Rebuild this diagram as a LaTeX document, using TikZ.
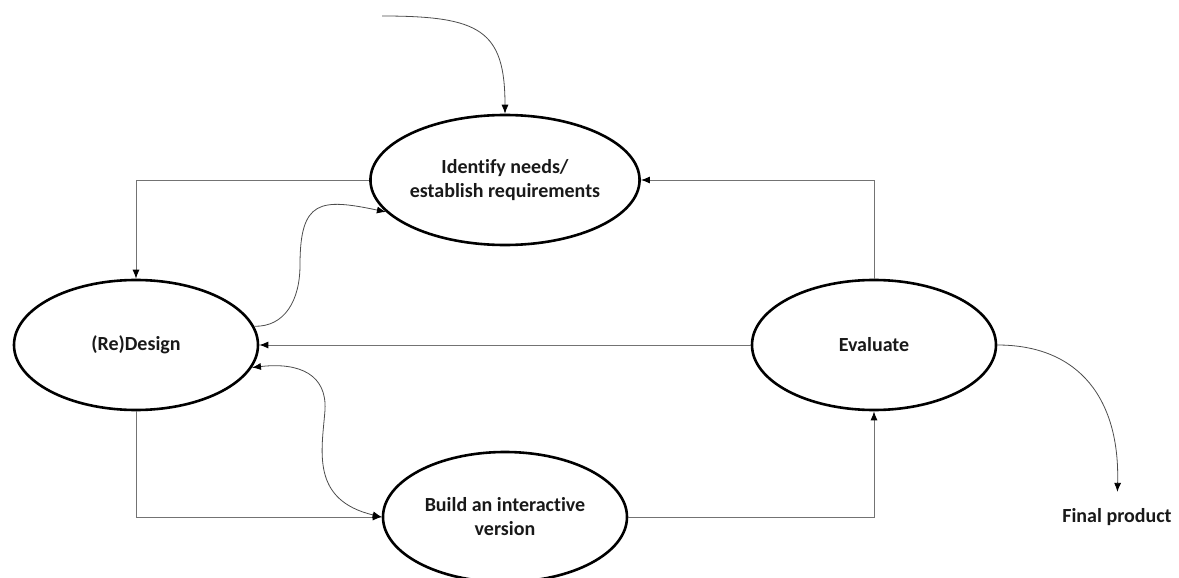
\documentclass[tikz,border=0pt]{standalone}
\usepackage{fontspec}
\setmainfont[Ligatures=NoCommon]{Carlito}
\usetikzlibrary{shapes.geometric,arrows.meta}

\tikzset{
  stage/.style={ellipse, draw, line width=2.6pt, minimum width=244pt, minimum height=130pt,
    inner sep=0pt, align=center, text=black!90, font=\bfseries\fontsize{20}{24}\selectfont},
  tip/.style={-{Latex[length=9pt,width=7pt,color=black]}},
  flow/.style={draw=black!55, line width=1pt, tip},
  wiggle/.style={draw=black!70, line width=0.8pt, tip}
}

\begin{document}
\begin{tikzpicture}[x=1pt, y=-1pt]
          \useasboundingbox (0,0) rectangle (1179,578);
          \node[stage] (MT) at (505, 180) {Identify needs/\\establish requirements}; 
          \node[stage] (LM) at (136, 345) {(Re)Design}; 
          \node[stage] (RM) at (874, 345) {Evaluate}; 
          \node[stage] (MB) at (505, 517) {Build an interactive\\version}; 
          \node[text=black!90, font=\bfseries\fontsize{20}{24}\selectfont] (RB) at (1117, 517) {Final product}; 
          \coordinate (in) at (382, 16); 
          % the rectangular cycle
          \draw [flow] (MT.west) -| (LM.north); 
          \draw [flow] (RM.north) |- (MT.east); 
          \draw [flow] (RM.west) -- (LM.east); 
          \draw [flow] (LM.south) |- (MB.west); 
          \draw [flow] (MB.east) -| (RM.south); 
          % curved ones
          \draw [wiggle] (in) .. controls (480, 16) and (505, 30) .. (MT.north); 
          \draw [wiggle] (LM.9) .. controls (285, 327) and (300, 300) .. (300, 265)
                  .. controls (300, 200) and (320, 198) .. (MT.195); 
          \draw [wiggle, {Latex[length=9pt,width=7pt,color=black]}-{Latex[length=9pt,width=7pt,color=black]}] (LM.-11) .. controls (300, 362) and (327, 375) .. (325, 410)
                  .. controls (322, 450) and (310, 500) .. (MB.west); 
          \draw [wiggle, shorten >=13pt] (RM.east) .. controls (1080, 345) and (1120, 400) .. (RB.north); 
  \end{tikzpicture}
\end{document}
